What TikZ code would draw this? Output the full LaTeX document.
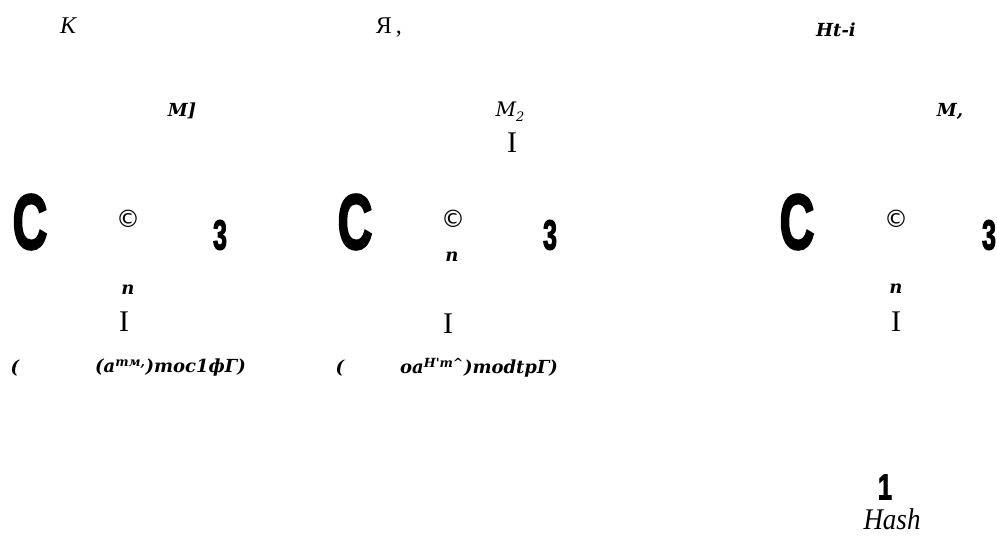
\documentclass[tikz,border=0pt]{standalone}
\usepackage{fontspec}
\setmainfont{Liberation Serif}
\newfontfamily\heavyfont[FakeBold=3]{Liberation Sans Bold}
\newfontfamily\dvfont{DejaVu Sans}
\newfontfamily\dvserif{DejaVu Serif}
\tikzset{
  lbl/.style={inner sep=0pt, anchor=center},
  bi/.style={lbl, font=\fontsize{18}{18}\selectfont\dvserif\bfseries\itshape},
  it/.style={lbl, font=\fontsize{24}{24}\selectfont\itshape},
  rm/.style={lbl, font=\fontsize{30}{30}\selectfont},
  bigc/.style={lbl, font=\fontsize{78}{78}\selectfont\heavyfont},
  three/.style={lbl, font=\fontsize{42}{42}\selectfont\heavyfont},
  copy/.style={lbl, font=\fontsize{24}{24}\selectfont\dvfont},
}
\newcommand{\narrowtxt}[2]{\scalebox{#1}[1]{#2}}
\begin{document}
\begin{tikzpicture}[x=1pt,y=-1pt]
\useasboundingbox (0,0) rectangle (997,540);
% top row
\node[it] (k) at (68,26) {К};
\node[lbl, font=\fontsize{24}{24}\selectfont] (ya) at (389,27) {Я\,,};
\node[bi] (ht) at (836,30) {Ht-i};
% M row
\node[bi] (m1) at (182,111) {M]};
\node[lbl, font=\fontsize{20}{20}\selectfont\dvserif\itshape] (m2) at (510,112) {M\raisebox{-0.25em}{\fontsize{13}{13}\selectfont 2}};
\node[rm] (i0) at (512,143) {I};
\node[bi] (m3) at (950,111) {M,};
% C groups
\node[bigc] (c1) at (30,222) {\narrowtxt{0.62}{C}};
\node[copy] (cp1) at (128,219) {©};
\node[three] (t1) at (220,235) {\narrowtxt{0.6}{3}};
\node[bigc] (c2) at (355,222) {\narrowtxt{0.62}{C}};
\node[copy] (cp2) at (453,219) {©};
\node[bi] (n2) at (452,257) {n};
\node[three] (t2) at (550,235) {\narrowtxt{0.6}{3}};
\node[bigc] (c3) at (797,222) {\narrowtxt{0.62}{C}};
\node[copy] (cp3) at (896,219) {©};
\node[three] (t3) at (989,235) {\narrowtxt{0.6}{3}};
% n and I below
\node[bi] (n1) at (128,290) {n};
\node[rm] (i1) at (124,322) {I};
\node[rm] (i2) at (448,324) {I};
\node[bi] (n3) at (896,289) {n};
\node[rm] (i3) at (896,322) {I};
% formulas
\node[bi] (p1) at (15,368) {(};
\node[bi, anchor=west] (f1) at (95,368) {(a\textsuperscript{тм,})moc1фГ)};
\node[bi] (p2) at (340,368) {(};
\node[bi, anchor=west] (f2) at (400,368) {oa\textsuperscript{H'm\^{}})modtpГ)};
% hash
\node[lbl, font=\fontsize{36}{36}\selectfont\heavyfont] (one) at (885,487) {\narrowtxt{0.7}{1}};
\node[lbl, font=\fontsize{30}{30}\selectfont\itshape] (hash) at (892,519) {\narrowtxt{0.9}{Hash}};
\end{tikzpicture}
\end{document}
